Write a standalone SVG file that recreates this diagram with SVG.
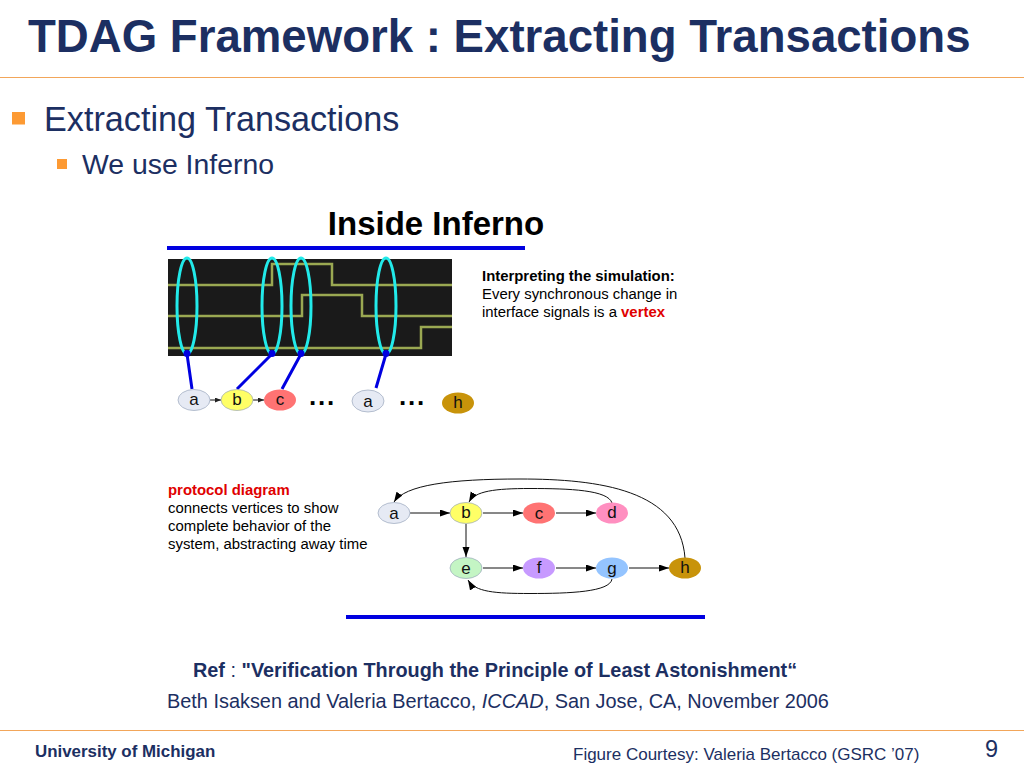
<svg xmlns="http://www.w3.org/2000/svg" width="1024" height="768" viewBox="0 0 1024 768">
<style>
text{font-family:"Liberation Sans",Arial,sans-serif}
.n{fill:#1c2f62}
.nl{font-size:17px;fill:#111;text-anchor:middle}
.nd{stroke:#9aa6bb;stroke-width:.7}
.sm{font-size:14.900px;fill:#000}
.e{fill:none;stroke:#111;stroke-width:1}
.w{fill:none;stroke:#9aa852;stroke-width:2.500}
.o{fill:none;stroke:#22eaea;stroke-width:3}
.b{fill:none;stroke:#0000e0;stroke-width:3}
.bar{stroke:#0000e0;stroke-width:4}
.dots{font-size:26px;font-weight:bold;fill:#000;letter-spacing:1.800px}
</style>
<defs>
<marker id="ah" markerWidth="11" markerHeight="8" refX="10" refY="3.500" orient="auto" markerUnits="userSpaceOnUse"><path d="M0 0L10 3.500L0 7Z" fill="#000"/></marker>
<marker id="ahs" markerWidth="7" markerHeight="6" refX="6" refY="2.500" orient="auto" markerUnits="userSpaceOnUse"><path d="M0 0L6 2.500L0 5Z" fill="#222"/></marker>
</defs>
<rect width="1024" height="768" fill="#fff"/>
<text x="28" y="52" font-size="45.600" font-weight="bold" class="n">TDAG Framework : Extracting Transactions</text>
<line x1="0" y1="77.500" x2="1024" y2="77.500" stroke="#f2a65a" stroke-width="1"/>
<rect x="12" y="112" width="13" height="12.500" fill="#fd9a33"/>
<text x="44" y="131" font-size="34.200" class="n">Extracting Transactions</text>
<rect x="57" y="159" width="10" height="10" fill="#fd9a33"/>
<text x="82" y="174" font-size="28.400" class="n">We use Inferno</text>
<text x="436" y="235" font-size="33" font-weight="bold" fill="#000" text-anchor="middle">Inside Inferno</text>
<line class="bar" x1="167" y1="248" x2="525" y2="248"/>
<g id="waveform">
<rect x="168" y="259" width="284" height="97" fill="#1a1a1a"/>
<path class="w" d="M168 285H272V264H332V285H452"/>
<path class="w" d="M168 316H302V295H362V316H452"/>
<path class="w" d="M168 348H421V327H452"/>
<ellipse class="o" cx="187" cy="306" rx="10" ry="48"/>
<ellipse class="o" cx="272" cy="306" rx="10" ry="48"/>
<ellipse class="o" cx="301" cy="306" rx="10" ry="48"/>
<ellipse class="o" cx="386" cy="306" rx="10" ry="48"/>
</g>
<g id="connectors">
<g fill="#0000e0"><circle cx="187" cy="353.500" r="3.500"/><circle cx="272" cy="353.500" r="3.500"/><circle cx="301" cy="353.500" r="3.500"/><circle cx="386" cy="353.500" r="3.500"/></g>
<path class="b" d="M187 354L192 389M272 354L237 389M301 354L282 389M386 354L376 388"/>
<path class="e" d="M210 400H221" marker-end="url(#ahs)"/>
<path class="e" d="M253 400H264" marker-end="url(#ahs)"/>
<path class="e" d="M410 513H450" marker-end="url(#ah)"/>
<path class="e" d="M483 513H523" marker-end="url(#ah)"/>
<path class="e" d="M556 513H596" marker-end="url(#ah)"/>
<path class="e" d="M466 524V557" marker-end="url(#ah)"/>
<path class="e" d="M483 568H523" marker-end="url(#ah)"/>
<path class="e" d="M556 568H596" marker-end="url(#ah)"/>
<path class="e" d="M629 568H669" marker-end="url(#ah)"/>
<path class="e" d="M685 558C680 490 600 479 520 479C450 479 405 485 394 502" marker-end="url(#ah)"/>
<path class="e" d="M612 503C608 490 570 488.500 530 488.500C495 488.500 475 491 469 502" marker-end="url(#ah)"/>
<path class="e" d="M612 579C610 592 570 593.500 530 593.500C495 593.500 475 592 468 580" marker-end="url(#ah)"/>
</g>
<g id="t-a1"><ellipse class="nd" cx="194" cy="400" rx="16" ry="10.500" fill="#e6eaf4"/><text class="nl" x="194" y="405">a</text></g>
<g id="t-b"><ellipse class="nd" cx="237" cy="400" rx="16" ry="10.500" fill="#ffff66"/><text class="nl" x="237" y="405">b</text></g>
<g id="t-c"><ellipse cx="280" cy="400" rx="16" ry="10.500" fill="#ff7373"/><text class="nl" x="280" y="405">c</text></g>
<g id="t-a2"><ellipse class="nd" cx="368" cy="401" rx="16" ry="11" fill="#e6eaf4"/><text class="nl" x="368" y="407">a</text></g>
<g id="t-h"><ellipse cx="458" cy="403" rx="16" ry="10.500" fill="#c8930a"/><text class="nl" x="458" y="408">h</text></g>
<text class="dots" x="309" y="405">...</text>
<text class="dots" x="399" y="405">...</text>
<g id="interp-note" class="sm">
<text x="482" y="281" font-weight="bold">Interpreting the simulation:</text>
<text x="482" y="299">Every synchronous change in</text>
<text x="482" y="317">interface signals is a <tspan font-weight="bold" fill="#e00000">vertex</tspan></text>
</g>
<g id="proto-note" class="sm">
<text x="168" y="495" font-weight="bold" fill="#e00000">protocol diagram</text>
<text x="168" y="513">connects vertices to show</text>
<text x="168" y="531">complete behavior of the</text>
<text x="168" y="549">system, abstracting away time</text>
</g>
<g id="a"><ellipse class="nd" cx="394" cy="513" rx="16" ry="10.500" fill="#e6eaf4"/><text class="nl" x="394" y="519">a</text></g>
<g id="b"><ellipse class="nd" cx="466" cy="513" rx="16" ry="10.500" fill="#ffff66"/><text class="nl" x="466" y="518">b</text></g>
<g id="c"><ellipse cx="539" cy="513" rx="16" ry="10.500" fill="#ff7373"/><text class="nl" x="539" y="519">c</text></g>
<g id="d"><ellipse cx="612" cy="513" rx="16" ry="10.500" fill="#ff8fc0"/><text class="nl" x="612" y="518">d</text></g>
<g id="e"><ellipse class="nd" cx="466" cy="568" rx="16" ry="10.500" fill="#c4f5c4"/><text class="nl" x="466" y="574">e</text></g>
<g id="f"><ellipse cx="539" cy="568" rx="16" ry="10.500" fill="#c79aff"/><text class="nl" x="539" y="573">f</text></g>
<g id="g"><ellipse cx="612" cy="568" rx="16" ry="10.500" fill="#94c4ff"/><text class="nl" x="612" y="574">g</text></g>
<g id="h"><ellipse cx="685" cy="568" rx="16" ry="10.500" fill="#c8930a"/><text class="nl" x="685" y="573">h</text></g>
<line class="bar" x1="346" y1="617" x2="705" y2="617"/>
<text x="193" y="677" font-size="19.850" class="n"><tspan font-weight="bold">Ref</tspan> : <tspan font-weight="bold">"Verification Through the Principle of Least Astonishment“</tspan></text>
<text x="167" y="708" font-size="19.900" class="n">Beth Isaksen and Valeria Bertacco, <tspan font-style="italic">ICCAD</tspan>, San Jose, CA, November 2006</text>
<line x1="0" y1="730.500" x2="1024" y2="730.500" stroke="#f2a65a" stroke-width="1"/>
<text x="35" y="757" font-size="16.900" font-weight="bold" class="n">University of Michigan</text>
<text x="573" y="760" font-size="17" class="n">Figure Courtesy: Valeria Bertacco (GSRC ’07)</text>
<text x="985" y="757" font-size="23.500" class="n">9</text>
</svg>
